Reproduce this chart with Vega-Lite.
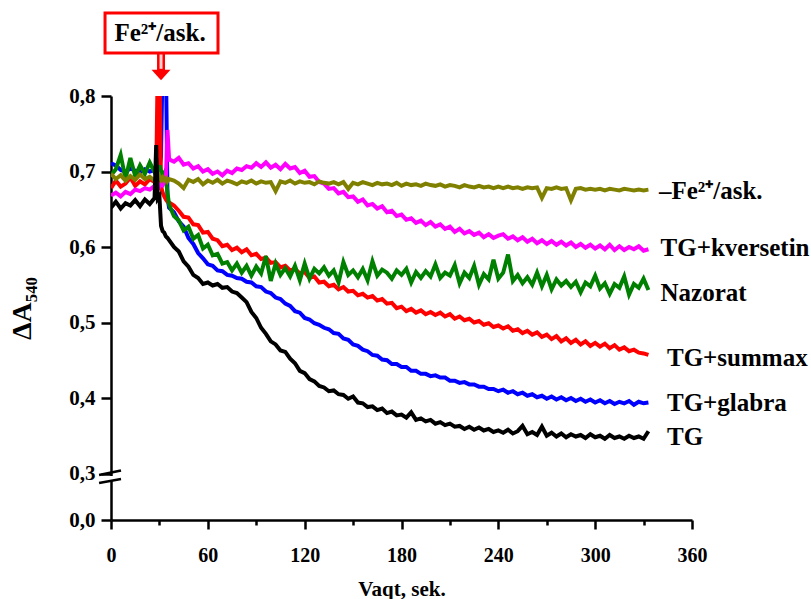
{
  "$schema": "https://vega.github.io/schema/vega-lite/v6.json",
  "width": 581,
  "height": 424,
  "autosize": "none",
  "padding": {"left": 111, "top": 96, "right": 119, "bottom": 79},
  "background": "white",
  "config": {"view": {"stroke": null}, "font": "'Times New Roman', 'Liberation Serif', serif"},
  "datasets": {
    "curves": [
      {"t":0,"tg":0.652,"gl":0.711,"su":0.678,"na":0.695,"kv":0.668,"fe":0.697},
      {"t":3,"tg":0.660,"gl":0.708,"su":0.688,"na":0.703,"kv":0.672,"fe":0.690},
      {"t":6,"tg":0.651,"gl":0.702,"su":0.680,"na":0.722,"kv":0.667,"fe":0.695},
      {"t":9,"tg":0.658,"gl":0.700,"su":0.684,"na":0.690,"kv":0.673,"fe":0.688},
      {"t":12,"tg":0.655,"gl":0.704,"su":0.692,"na":0.718,"kv":0.670,"fe":0.694},
      {"t":15,"tg":0.662,"gl":0.701,"su":0.681,"na":0.694,"kv":0.676,"fe":0.689},
      {"t":18,"tg":0.654,"gl":0.699,"su":0.687,"na":0.708,"kv":0.674,"fe":0.696},
      {"t":21,"tg":0.663,"gl":0.703,"su":0.683,"na":0.697,"kv":0.678,"fe":0.690},
      {"t":24,"tg":0.657,"gl":0.700,"su":0.690,"na":0.712,"kv":0.676,"fe":0.693},
      {"t":27,"tg":0.665,"gl":0.702,"su":0.686,"na":0.699,"kv":0.681,"fe":0.688},
      {"t":28,"tg":0.735,"gl":0.701,"su":0.689,"na":0.705,"kv":0.679,"fe":0.692},
      {"t":29,"tg":0.664,"gl":0.703,"su":0.85,"na":0.696,"kv":0.683,"fe":0.690},
      {"t":30,"tg":0.667,"gl":0.705,"su":0.85,"na":0.708,"kv":0.680,"fe":0.694},
      {"t":31,"tg":0.628,"gl":0.72,"su":0.68,"na":0.700,"kv":0.684,"fe":0.689},
      {"t":32,"tg":0.621,"gl":0.85,"su":0.672,"na":0.694,"kv":0.682,"fe":0.692},
      {"t":33,"tg":0.619,"gl":0.85,"su":0.667,"na":0.698,"kv":0.686,"fe":0.688},
      {"t":34,"tg":0.614,"gl":0.85,"su":0.663,"na":0.690,"kv":0.69,"fe":0.691},
      {"t":35,"tg":0.612,"gl":0.665,"su":0.660,"na":0.672,"kv":0.755,"fe":0.687},
      {"t":36,"tg":0.609,"gl":0.652,"su":0.659,"na":0.656,"kv":0.716,"fe":0.690},
      {"t":39,"tg":0.600,"gl":0.646,"su":0.655,"na":0.641,"kv":0.713,"fe":0.688},
      {"t":42,"tg":0.594,"gl":0.634,"su":0.648,"na":0.635,"kv":0.718,"fe":0.684},
      {"t":45,"tg":0.581,"gl":0.627,"su":0.640,"na":0.622,"kv":0.709,"fe":0.678},
      {"t":48,"tg":0.574,"gl":0.612,"su":0.639,"na":0.627,"kv":0.711,"fe":0.689},
      {"t":51,"tg":0.563,"gl":0.604,"su":0.630,"na":0.611,"kv":0.704,"fe":0.686},
      {"t":54,"tg":0.559,"gl":0.592,"su":0.629,"na":0.616,"kv":0.707,"fe":0.690},
      {"t":57,"tg":0.551,"gl":0.585,"su":0.619,"na":0.598,"kv":0.700,"fe":0.683},
      {"t":60,"tg":0.553,"gl":0.577,"su":0.620,"na":0.603,"kv":0.703,"fe":0.688},
      {"t":63,"tg":0.549,"gl":0.575,"su":0.611,"na":0.589,"kv":0.697,"fe":0.685},
      {"t":66,"tg":0.551,"gl":0.569,"su":0.609,"na":0.591,"kv":0.700,"fe":0.689},
      {"t":69,"tg":0.546,"gl":0.568,"su":0.601,"na":0.578,"kv":0.695,"fe":0.684},
      {"t":72,"tg":0.547,"gl":0.563,"su":0.603,"na":0.580,"kv":0.701,"fe":0.688},
      {"t":75,"tg":0.541,"gl":0.562,"su":0.596,"na":0.569,"kv":0.698,"fe":0.686},
      {"t":78,"tg":0.539,"gl":0.559,"su":0.599,"na":0.578,"kv":0.704,"fe":0.683},
      {"t":81,"tg":0.533,"gl":0.558,"su":0.593,"na":0.566,"kv":0.702,"fe":0.687},
      {"t":84,"tg":0.527,"gl":0.554,"su":0.597,"na":0.575,"kv":0.707,"fe":0.685},
      {"t":87,"tg":0.514,"gl":0.553,"su":0.589,"na":0.562,"kv":0.705,"fe":0.688},
      {"t":90,"tg":0.506,"gl":0.548,"su":0.591,"na":0.574,"kv":0.711,"fe":0.684},
      {"t":93,"tg":0.493,"gl":0.547,"su":0.584,"na":0.565,"kv":0.706,"fe":0.687},
      {"t":96,"tg":0.485,"gl":0.541,"su":0.586,"na":0.588,"kv":0.712,"fe":0.685},
      {"t":99,"tg":0.475,"gl":0.539,"su":0.579,"na":0.555,"kv":0.705,"fe":0.686},
      {"t":102,"tg":0.471,"gl":0.533,"su":0.580,"na":0.578,"kv":0.709,"fe":0.674},
      {"t":105,"tg":0.463,"gl":0.531,"su":0.573,"na":0.563,"kv":0.703,"fe":0.687},
      {"t":108,"tg":0.461,"gl":0.525,"su":0.575,"na":0.572,"kv":0.710,"fe":0.685},
      {"t":111,"tg":0.452,"gl":0.522,"su":0.569,"na":0.561,"kv":0.704,"fe":0.688},
      {"t":114,"tg":0.446,"gl":0.515,"su":0.571,"na":0.575,"kv":0.706,"fe":0.684},
      {"t":117,"tg":0.436,"gl":0.513,"su":0.565,"na":0.556,"kv":0.698,"fe":0.687},
      {"t":120,"tg":0.433,"gl":0.506,"su":0.567,"na":0.578,"kv":0.701,"fe":0.685},
      {"t":123,"tg":0.425,"gl":0.504,"su":0.559,"na":0.558,"kv":0.693,"fe":0.686},
      {"t":126,"tg":0.422,"gl":0.499,"su":0.561,"na":0.571,"kv":0.694,"fe":0.683},
      {"t":129,"tg":0.416,"gl":0.497,"su":0.553,"na":0.565,"kv":0.686,"fe":0.687},
      {"t":132,"tg":0.414,"gl":0.493,"su":0.554,"na":0.573,"kv":0.684,"fe":0.685},
      {"t":135,"tg":0.409,"gl":0.491,"su":0.548,"na":0.562,"kv":0.677,"fe":0.684},
      {"t":138,"tg":0.410,"gl":0.486,"su":0.550,"na":0.569,"kv":0.678,"fe":0.686},
      {"t":141,"tg":0.405,"gl":0.485,"su":0.544,"na":0.553,"kv":0.671,"fe":0.683},
      {"t":144,"tg":0.404,"gl":0.479,"su":0.547,"na":0.580,"kv":0.673,"fe":0.686},
      {"t":147,"tg":0.399,"gl":0.477,"su":0.541,"na":0.563,"kv":0.666,"fe":0.677},
      {"t":150,"tg":0.402,"gl":0.471,"su":0.542,"na":0.569,"kv":0.667,"fe":0.685},
      {"t":153,"tg":0.394,"gl":0.469,"su":0.536,"na":0.560,"kv":0.660,"fe":0.683},
      {"t":156,"tg":0.393,"gl":0.464,"su":0.538,"na":0.571,"kv":0.663,"fe":0.686},
      {"t":159,"tg":0.388,"gl":0.462,"su":0.533,"na":0.556,"kv":0.655,"fe":0.684},
      {"t":162,"tg":0.389,"gl":0.457,"su":0.535,"na":0.581,"kv":0.657,"fe":0.682},
      {"t":165,"tg":0.384,"gl":0.456,"su":0.529,"na":0.562,"kv":0.651,"fe":0.685},
      {"t":168,"tg":0.386,"gl":0.451,"su":0.531,"na":0.570,"kv":0.654,"fe":0.683},
      {"t":171,"tg":0.380,"gl":0.450,"su":0.525,"na":0.566,"kv":0.646,"fe":0.684},
      {"t":174,"tg":0.382,"gl":0.445,"su":0.526,"na":0.558,"kv":0.648,"fe":0.682},
      {"t":177,"tg":0.377,"gl":0.445,"su":0.519,"na":0.569,"kv":0.641,"fe":0.685},
      {"t":180,"tg":0.378,"gl":0.441,"su":0.521,"na":0.563,"kv":0.643,"fe":0.681},
      {"t":183,"tg":0.374,"gl":0.441,"su":0.515,"na":0.571,"kv":0.636,"fe":0.684},
      {"t":186,"tg":0.381,"gl":0.436,"su":0.518,"na":0.553,"kv":0.638,"fe":0.682},
      {"t":189,"tg":0.371,"gl":0.436,"su":0.513,"na":0.567,"kv":0.632,"fe":0.683},
      {"t":192,"tg":0.373,"gl":0.432,"su":0.516,"na":0.559,"kv":0.635,"fe":0.681},
      {"t":195,"tg":0.369,"gl":0.432,"su":0.511,"na":0.568,"kv":0.629,"fe":0.684},
      {"t":198,"tg":0.371,"gl":0.429,"su":0.514,"na":0.561,"kv":0.633,"fe":0.682},
      {"t":201,"tg":0.366,"gl":0.430,"su":0.510,"na":0.577,"kv":0.627,"fe":0.681},
      {"t":204,"tg":0.368,"gl":0.427,"su":0.513,"na":0.559,"kv":0.630,"fe":0.683},
      {"t":207,"tg":0.364,"gl":0.427,"su":0.508,"na":0.566,"kv":0.624,"fe":0.680},
      {"t":210,"tg":0.366,"gl":0.423,"su":0.511,"na":0.562,"kv":0.627,"fe":0.682},
      {"t":213,"tg":0.362,"gl":0.423,"su":0.505,"na":0.576,"kv":0.620,"fe":0.681},
      {"t":216,"tg":0.363,"gl":0.420,"su":0.508,"na":0.552,"kv":0.624,"fe":0.679},
      {"t":219,"tg":0.359,"gl":0.421,"su":0.503,"na":0.566,"kv":0.618,"fe":0.682},
      {"t":222,"tg":0.362,"gl":0.418,"su":0.505,"na":0.559,"kv":0.621,"fe":0.680},
      {"t":225,"tg":0.358,"gl":0.418,"su":0.500,"na":0.575,"kv":0.616,"fe":0.679},
      {"t":228,"tg":0.361,"gl":0.415,"su":0.502,"na":0.550,"kv":0.619,"fe":0.681},
      {"t":231,"tg":0.357,"gl":0.415,"su":0.497,"na":0.564,"kv":0.613,"fe":0.679},
      {"t":234,"tg":0.359,"gl":0.412,"su":0.499,"na":0.557,"kv":0.617,"fe":0.680},
      {"t":237,"tg":0.355,"gl":0.412,"su":0.494,"na":0.583,"kv":0.612,"fe":0.678},
      {"t":240,"tg":0.357,"gl":0.409,"su":0.496,"na":0.558,"kv":0.615,"fe":0.680},
      {"t":243,"tg":0.354,"gl":0.411,"su":0.492,"na":0.566,"kv":0.617,"fe":0.678},
      {"t":246,"tg":0.358,"gl":0.407,"su":0.495,"na":0.590,"kv":0.611,"fe":0.680},
      {"t":249,"tg":0.353,"gl":0.409,"su":0.489,"na":0.555,"kv":0.614,"fe":0.678},
      {"t":252,"tg":0.356,"gl":0.405,"su":0.491,"na":0.563,"kv":0.609,"fe":0.679},
      {"t":255,"tg":0.363,"gl":0.407,"su":0.486,"na":0.552,"kv":0.613,"fe":0.677},
      {"t":258,"tg":0.352,"gl":0.403,"su":0.489,"na":0.560,"kv":0.607,"fe":0.679},
      {"t":261,"tg":0.355,"gl":0.405,"su":0.484,"na":0.550,"kv":0.611,"fe":0.678},
      {"t":264,"tg":0.351,"gl":0.401,"su":0.487,"na":0.566,"kv":0.605,"fe":0.679},
      {"t":267,"tg":0.362,"gl":0.403,"su":0.481,"na":0.548,"kv":0.609,"fe":0.665},
      {"t":270,"tg":0.350,"gl":0.399,"su":0.484,"na":0.563,"kv":0.604,"fe":0.678},
      {"t":273,"tg":0.354,"gl":0.402,"su":0.478,"na":0.544,"kv":0.608,"fe":0.677},
      {"t":276,"tg":0.349,"gl":0.398,"su":0.482,"na":0.557,"kv":0.603,"fe":0.679},
      {"t":279,"tg":0.353,"gl":0.401,"su":0.475,"na":0.549,"kv":0.607,"fe":0.677},
      {"t":282,"tg":0.348,"gl":0.397,"su":0.479,"na":0.555,"kv":0.602,"fe":0.678},
      {"t":285,"tg":0.352,"gl":0.400,"su":0.473,"na":0.547,"kv":0.606,"fe":0.662},
      {"t":288,"tg":0.349,"gl":0.396,"su":0.477,"na":0.554,"kv":0.600,"fe":0.677},
      {"t":291,"tg":0.351,"gl":0.399,"su":0.471,"na":0.540,"kv":0.604,"fe":0.678},
      {"t":294,"tg":0.347,"gl":0.395,"su":0.475,"na":0.553,"kv":0.599,"fe":0.676},
      {"t":297,"tg":0.352,"gl":0.398,"su":0.469,"na":0.548,"kv":0.603,"fe":0.677},
      {"t":300,"tg":0.348,"gl":0.394,"su":0.473,"na":0.562,"kv":0.598,"fe":0.676},
      {"t":303,"tg":0.350,"gl":0.397,"su":0.468,"na":0.545,"kv":0.602,"fe":0.677},
      {"t":306,"tg":0.346,"gl":0.393,"su":0.472,"na":0.552,"kv":0.597,"fe":0.675},
      {"t":309,"tg":0.351,"gl":0.396,"su":0.466,"na":0.538,"kv":0.603,"fe":0.677},
      {"t":312,"tg":0.347,"gl":0.392,"su":0.470,"na":0.551,"kv":0.596,"fe":0.676},
      {"t":315,"tg":0.349,"gl":0.395,"su":0.464,"na":0.546,"kv":0.601,"fe":0.675},
      {"t":318,"tg":0.346,"gl":0.393,"su":0.467,"na":0.561,"kv":0.596,"fe":0.677},
      {"t":321,"tg":0.350,"gl":0.396,"su":0.462,"na":0.537,"kv":0.600,"fe":0.676},
      {"t":324,"tg":0.347,"gl":0.391,"su":0.464,"na":0.551,"kv":0.597,"fe":0.675},
      {"t":327,"tg":0.349,"gl":0.395,"su":0.460,"na":0.546,"kv":0.601,"fe":0.676},
      {"t":330,"tg":0.346,"gl":0.393,"su":0.459,"na":0.558,"kv":0.595,"fe":0.675},
      {"t":333,"tg":0.356,"gl":0.394,"su":0.457,"na":0.543,"kv":0.597,"fe":0.676}
    ],
    "labels": [
      {"name": "–Fe²⁺/ask.", "t": 339.5, "v": 0.674},
      {"name": "TG+kversetin", "t": 340.5, "v": 0.5985},
      {"name": "Nazorat", "t": 340.5, "v": 0.539},
      {"name": "TG+summax", "t": 344.5, "v": 0.453},
      {"name": "TG+glabra", "t": 344.5, "v": 0.393},
      {"name": "TG", "t": 344.5, "v": 0.348}
    ],
    "breaks": [
      {"t1": -7.4, "t2": 6.2, "v1": 0.2903, "v2": 0.304},
      {"t1": -7.4, "t2": 6.2, "v1": 0.2387, "v2": 0.2645}
    ],
    "gap": [{"t": 0, "v1": 0.252, "v2": 0.284}],
    "box": [{"t1": -3.7, "t2": 66.3, "v1": 0.857, "v2": 0.910, "tc": 30.4, "vc": 0.8835, "label": "Fe²⁺/ask."}],
    "arrow": [{"t": 31.0, "v1": 0.857, "v2": 0.8344, "w1": 0.855, "w2": 0.836, "vh": 0.8278}]
  },
  "layer": [
    {
      "data": {"name": "curves"},
      "transform": [{"fold": ["gl", "su", "na", "kv", "fe", "tg"], "as": ["s", "v"]}],
      "mark": {"type": "line", "strokeWidth": 4, "clip": true},
      "encoding": {
        "x": {
          "field": "t", "type": "quantitative",
          "scale": {"domain": [0, 360], "nice": false, "zero": false},
          "axis": {
            "values": [0, 30, 60, 90, 120, 150, 180, 210, 240, 270, 300, 330, 360],
            "labelExpr": "datum.value % 60 === 0 ? datum.label : ''",
            "tickSize": {"condition": {"test": "datum.value % 60 === 0", "value": 9}, "value": 5},
            "title": "Vaqt, sek.",
            "titleFontSize": 21, "titleFontWeight": "bold", "titleColor": "black", "titlePadding": 13,
            "labelFontSize": 20, "labelFontWeight": "bold", "labelColor": "black",
            "labelPadding": 16, "labelFlush": false, "labelOverlap": false, "labelBound": false,
            "domainColor": "black", "domainWidth": 2.5, "tickColor": "black", "tickWidth": 2.5, "grid": false
          }
        },
        "y": {
          "field": "v", "type": "quantitative",
          "scale": {"domain": [0, 0.3, 0.8], "range": [424, 377.5, 0], "nice": false, "zero": false},
          "axis": {
            "values": [0, 0.13, 0.3, 0.35, 0.4, 0.45, 0.5, 0.55, 0.6, 0.65, 0.7, 0.75, 0.8],
            "labelExpr": "abs(datum.value*10 - round(datum.value*10)) < 0.001 ? replace(format(datum.value, '.1f'), '.', ',') : ''",
            "tickSize": {"condition": {"test": "abs(datum.value*10 - round(datum.value*10)) < 0.001", "value": 10}, "value": 5},
            "title": "ΔA₅₄₀",
            "titleFontSize": 28, "titleFontWeight": "bold", "titleColor": "black", "titlePadding": 32,
            "labelFontSize": 21, "labelFontWeight": "bold", "labelColor": "black",
            "labelPadding": 6, "labelFlush": false, "labelOverlap": false, "labelBound": false,
            "domainColor": "black", "domainWidth": 2.5, "tickColor": "black", "tickWidth": 2.5, "grid": false
          }
        },
        "color": {
          "field": "s", "type": "nominal",
          "scale": {"domain": ["gl", "su", "na", "kv", "fe", "tg"], "range": ["#0000ff", "#ff0000", "#008000", "#ff00ff", "#808000", "#000000"]},
          "legend": null
        }
      }
    },
    {
      "data": {"name": "gap"},
      "mark": {"type": "rule", "color": "white", "strokeWidth": 5},
      "encoding": {
        "x": {"field": "t", "type": "quantitative"},
        "y": {"field": "v1", "type": "quantitative"},
        "y2": {"field": "v2"}
      }
    },
    {
      "data": {"name": "breaks"},
      "mark": {"type": "rule", "color": "black", "strokeWidth": 2.5},
      "encoding": {
        "x": {"field": "t1", "type": "quantitative"},
        "x2": {"field": "t2"},
        "y": {"field": "v1", "type": "quantitative"},
        "y2": {"field": "v2"}
      }
    },
    {
      "data": {"name": "labels"},
      "mark": {"type": "text", "align": "left", "baseline": "middle", "fontSize": 25, "fontWeight": "bold", "color": "black"},
      "encoding": {
        "x": {"field": "t", "type": "quantitative"},
        "y": {"field": "v", "type": "quantitative"},
        "text": {"field": "name"}
      }
    },
    {
      "data": {"name": "box"},
      "mark": {"type": "rect", "fill": "white", "stroke": "#ff0000", "strokeWidth": 3},
      "encoding": {
        "x": {"field": "t1", "type": "quantitative"},
        "x2": {"field": "t2"},
        "y": {"field": "v1", "type": "quantitative"},
        "y2": {"field": "v2"}
      }
    },
    {
      "data": {"name": "box"},
      "mark": {"type": "text", "align": "center", "baseline": "middle", "fontSize": 25, "fontWeight": "bold", "color": "black"},
      "encoding": {
        "x": {"field": "tc", "type": "quantitative"},
        "y": {"field": "vc", "type": "quantitative"},
        "text": {"field": "label"}
      }
    },
    {
      "data": {"name": "arrow"},
      "mark": {"type": "rule", "color": "#ff0000", "strokeWidth": 8},
      "encoding": {
        "x": {"field": "t", "type": "quantitative"},
        "y": {"field": "v1", "type": "quantitative"},
        "y2": {"field": "v2"}
      }
    },
    {
      "data": {"name": "arrow"},
      "mark": {"type": "rule", "color": "#ffd0d0", "strokeWidth": 3},
      "encoding": {
        "x": {"field": "t", "type": "quantitative"},
        "y": {"field": "w1", "type": "quantitative"},
        "y2": {"field": "w2"}
      }
    },
    {
      "data": {"name": "arrow"},
      "mark": {"type": "point", "shape": "M-1,-0.55L1,-0.55L0,0.55Z", "size": 361, "filled": true, "color": "#ff0000", "opacity": 1},
      "encoding": {
        "x": {"field": "t", "type": "quantitative"},
        "y": {"field": "vh", "type": "quantitative"}
      }
    }
  ]
}
